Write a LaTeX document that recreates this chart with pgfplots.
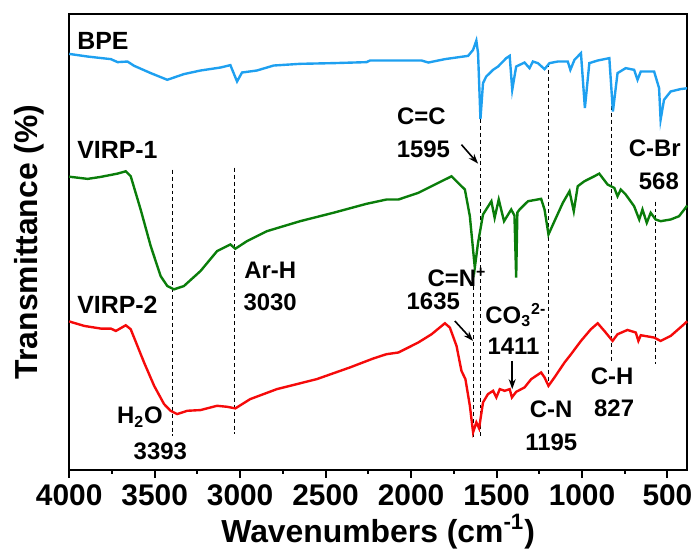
\documentclass[border=0pt]{standalone}
\usepackage{pgfplots}
\pgfplotsset{compat=1.18}
\usepackage{fontspec}
\setmainfont{Liberation Sans}
\usetikzlibrary{arrows.meta}
\definecolor{bpe}{RGB}{30,160,240}
\definecolor{vone}{RGB}{10,125,10}
\definecolor{vtwo}{RGB}{245,10,10}
\begin{document}
\begin{tikzpicture}
\begin{axis}[
 scale only axis, width=310.25pt, height=228.5pt,
 xmin=385, xmax=4000, x dir=reverse, ymin=90, ymax=547,
 axis line style={line width=1.1pt},
 xtick={500,1000,...,4000}, minor x tick num=1,
 tick align=outside, xtick pos=bottom, ytick=\empty,
 major tick length=4pt, minor tick length=2pt,
 every tick/.style={line width=1pt, black},
 ticklabel style={font=\fontsize{15}{16}\selectfont\bfseries},
 /pgf/number format/assume math mode=true,
 /pgf/number format/set thousands separator={},
 xlabel={Wavenumbers (cm\textsuperscript{-1})},
 ylabel={Transmittance (\%)},
 label style={font=\fontsize{16}{18}\selectfont\bfseries},
 xlabel style={at={(axis description cs:0.5,-0.135)}, anchor=center},
 ylabel style={at={(axis description cs:-0.064,0.5)}, anchor=center},
 clip=false,
]
\path (axis description cs:-0.112,-0.197) rectangle (axis description cs:1.0145,1.0306);
% dashed guide lines
\begin{scope}[dash pattern=on 2pt off 1.5pt, line width=0.5pt]
\draw (axis cs:3393,391) -- (axis cs:3393,124);
\draw (axis cs:3030,393) -- (axis cs:3030,126);
\draw (axis cs:1635,288) -- (axis cs:1635,121);
\draw (axis cs:1595,442) -- (axis cs:1595,121);
\draw (axis cs:1195,498) -- (axis cs:1195,173);
\draw (axis cs:827,476) -- (axis cs:827,199);
\draw (axis cs:568,359) -- (axis cs:568,196);
\end{scope}
\addplot[bpe, line width=1.2pt] coordinates {
(4000,507)(3990,506.7)(3892,504.3)(3756,501.7)(3717,498.7)(3659,499.3)(3620,495)(3523,487.7)(3426,481)(3329,486.7)(3232,490.3)(3115,493.3)(3057,495.7)(3018,479.3)(2989,488.3)(2902,490.3)(2804,495.3)(2649,497)(2455,497.7)(2260,498.7)(2241,500.3)(2144,500.3)(1938,500.3)(1899,498.3)(1802,501.7)(1666,505)(1637,511)(1618,520.3)(1608,507.7)(1594,441.7)(1579,477.7)(1560,484.3)(1520,491)(1491,494.3)(1443,502.7)(1423,505)(1408,471)(1385,494.3)(1336,498.3)(1307,492.7)(1287,499.3)(1258,497.7)(1219,491.7)(1190,497.7)(1142,499.3)(1083,499.3)(1068,491)(1044,501)(1006,507.7)(983,452.7)(957,497.7)(909,500.3)(840,502.7)(819,449.3)(792,487.7)(744,492.7)(695,491)(675,481)(656,489.3)(578,489.3)(549,472.7)(540,441)(520,461)(481,469.3)(423,471.7)(385,472.5)
};
\addplot[vone, line width=1.2pt] coordinates {
(4000,384)(3990,383.7)(3892,381.7)(3815,383.7)(3717,387)(3669,389.3)(3640,384.3)(3582,351)(3523,314.3)(3465,284.3)(3426,274.3)(3387,271)(3329,274.3)(3232,289.3)(3135,309.3)(3096,312.7)(3057,316)(3028,311.7)(2960,319.3)(2843,329.3)(2649,339.3)(2455,347.7)(2261,356.7)(2144,361)(2074,361)(1958,367.7)(1841,377.7)(1763,384.3)(1734,379.3)(1685,371)(1656,344.3)(1627,292.7)(1608,317.7)(1579,346)(1530,359.3)(1511,342.7)(1487,361)(1456,339.3)(1414,351)(1395,345)(1385,282.7)(1378,348)(1365,351)(1316,359.3)(1239,361.7)(1219,351)(1196,326)(1161,339.3)(1112,357.7)(1073,369.3)(1048,349.3)(1025,374.3)(986,379.3)(928,384.3)(899,387)(850,376)(811,372.7)(792,364.3)(773,371)(744,366)(695,354.3)(665,341)(646,351)(621,337.7)(598,347.7)(569,341)(540,339.3)(481,341)(432,344.3)(394,352.7)(385,355)
};
\addplot[vtwo, line width=1.2pt] coordinates {
(4000,239)(3990,238.3)(3911,234.3)(3815,231.7)(3756,231.7)(3727,229.3)(3669,235)(3640,231)(3562,197.7)(3503,174.3)(3445,156)(3407,149.3)(3368,146)(3309,149.3)(3232,150)(3135,154.3)(3076,153.3)(3028,151.7)(2941,161)(2785,171)(2552,181)(2358,192.7)(2221,201.7)(2144,206)(2074,207.7)(1958,217.7)(1880,226)(1802,237)(1773,232.7)(1734,214.3)(1705,189.3)(1682,181)(1656,154.3)(1637,127.7)(1618,137.7)(1602,131.7)(1579,157.7)(1550,166)(1520,169.3)(1501,162.7)(1481,171)(1452,169.3)(1423,171)(1410,162.7)(1385,168.3)(1336,172.7)(1297,181)(1239,187.7)(1219,182.7)(1196,174.3)(1161,182.7)(1102,197.7)(1064,206)(1006,219.3)(948,231)(908,237)(869,229.3)(821,219.3)(792,226)(734,230.3)(685,227.7)(670,219.3)(656,225)(578,222.7)(540,219.3)(481,224.3)(403,236)(385,239)
};
% labels
\begin{scope}[every node/.style={font=\fontsize{12.5}{14}\selectfont\bfseries, inner sep=0pt}]
\node[anchor=west] at (axis cs:3955,520) {BPE};
\node[anchor=west] at (axis cs:3955,411) {VIRP-1};
\node[anchor=west] at (axis cs:3955,256) {VIRP-2};
\end{scope}
\begin{scope}[every node/.style={font=\fontsize{12}{14}\selectfont\bfseries, inner sep=0pt}]
\node at (axis cs:2824,290) {Ar-H};
\node at (axis cs:2824,258) {3030};
\node at (axis cs:3586,143) {H\textsubscript{2}O};
\node at (axis cs:3467,109) {3393};
\node at (axis cs:1940,444) {C=C};
\node at (axis cs:1928,411) {1595};
\node[anchor=west] at (axis cs:1905,283) {C=N\textsuperscript{+}};
\node at (axis cs:1870,259) {1635};
\node[anchor=west] at (axis cs:1567,245) {CO\textsubscript{3}\textsuperscript{2-}};
\node at (axis cs:1401,214) {1411};
\node at (axis cs:1180,151) {C-N};
\node at (axis cs:1180,118) {1195};
\node at (axis cs:824,184) {C-H};
\node at (axis cs:812,152) {827};
\node at (axis cs:574,412.5) {C-Br};
\node at (axis cs:550,379) {568};
\end{scope}
\begin{scope}[-{Stealth[length=5pt,width=3.5pt]}, line width=0.8pt]
\draw (axis cs:1705,416) -- (axis cs:1608,397);
\draw (axis cs:1744,239.3) -- (axis cs:1637,219.3);
\draw (axis cs:1408,199.3) -- (axis cs:1408,171);
\end{scope}
\end{axis}
\end{tikzpicture}
\end{document}
